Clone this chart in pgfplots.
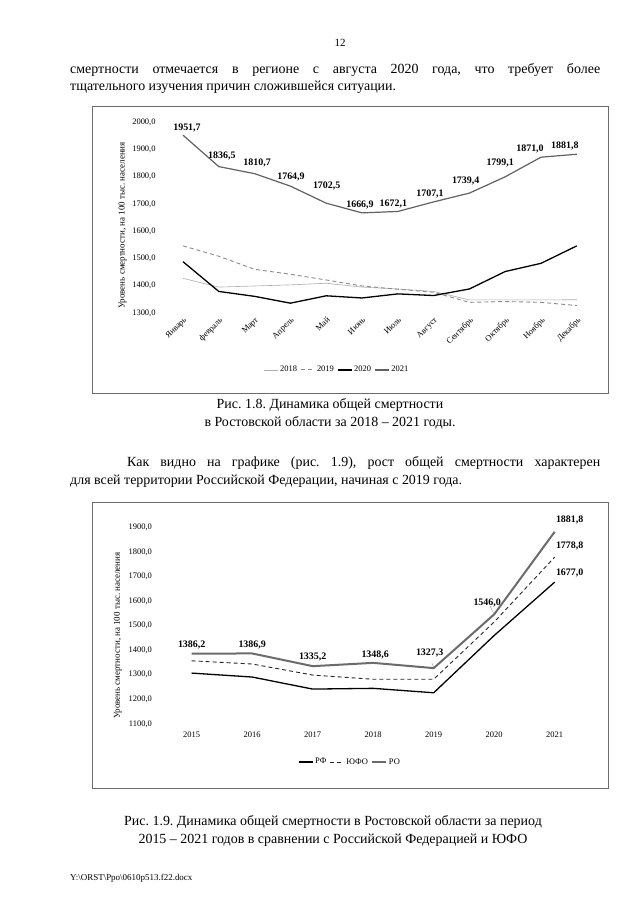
\documentclass[border=0pt]{standalone}
\usepackage{fontspec}
\setmainfont{Liberation Serif}
\usepackage{pgfplots}
\pgfplotsset{compat=1.18}
\usepackage{pgfplotstable}
\frenchspacing

\definecolor{boxgray}{gray}{0.42}
\definecolor{line18}{gray}{0.68}
\definecolor{line19}{gray}{0.55}
\definecolor{line21}{gray}{0.38}
\definecolor{lineRO}{gray}{0.42}

\newcommand\bodyfont{\fontsize{14}{17}\selectfont}
\newcommand\tickfont{\fontsize{8.5}{10}\selectfont}
\newcommand\lblfont{\fontsize{10}{11}\selectfont\bfseries}

% monthly values, Rostov region
\pgfplotstableread{
x  y18   y19   y20   y21     lbl     dx   dy
0  1427  1546  1488  1951.7  1951,7  4    7
1  1395  1508  1379  1836.5  1836,5  3    10.6
2  1399  1460  1361  1810.7  1810,7  2.5  10.6
3  1403  1442  1336  1764.9  1764,9  0.6  9
4  1409  1421  1363  1702.5  1702,5  0.5  17.5
5  1395  1399  1355  1666.9  1666,9  -2   8
6  1388  1387  1370  1672.1  1672,1  -4.5 7.5
7  1379  1376  1364  1707.1  1707,1  -3.6 7.6
8  1348  1339  1388  1739.4  1739,4  -3.7 12
9  1348  1342  1452  1799.1  1799,1  -5   13.5
10 1348  1339  1482  1871.0  1871,0  -11  8.5
11 1348.6 1327.3 1546 1881.8 1881,8  -12  8.6
}\monthly

% yearly values: RF, YuFO, RO
\pgfplotstableread{
x  rf     yufo   ro      lbl     dx   dy
0  1307   1357   1386.2  1386,2  0    8.6
1  1291   1344   1386.9  1386,9  0    8.4
2  1242   1299   1335.2  1335,2  0    9.4
3  1245   1282   1348.6  1348,6  2    7.8
4  1227   1282   1327.3  1327,3  -4   14.8
5  1460   1515   1546.0  1546,0  -7   11.4
6  1677.0 1778.8 1881.8  1881,8  15   11.6
}\yearly

\pgfplotsset{
  pagechart/.style={
    scale only axis,
    anchor=south west,
    axis line style={draw=none},
    tick style={draw=none},
    clip=false,
    scaled y ticks=false,
    y tick label style={font=\tickfont,xshift=-6bp,
      /pgf/number format/.cd,fixed,fixed zerofill,precision=1,use comma,1000 sep={},assume math mode=true,/tikz/.cd},
    x tick label style={font=\tickfont},
    ylabel style={font=\fontsize{9}{10}\selectfont},
    legend style={draw=none,fill=none,font=\tickfont,legend columns=-1,
      nodes={inner xsep=1.5bp},
      /tikz/every even column/.append style={column sep=2bp}},
    legend image code/.code={\draw[##1] (0bp,0bp) -- (14bp,0bp);},
  },
  labelled/.style={
    nodes near coords,
    point meta=explicit symbolic,
    visualization depends on={\thisrow{dx}\as\dx},
    visualization depends on={\thisrow{dy}\as\dy},
    every node near coord/.append style={anchor=center,inner sep=0pt,
      font=\lblfont,text=black,xshift=\dx*1bp,yshift=\dy*1bp},
  },
}

\begin{document}
\begin{tikzpicture}[x=1bp,y=1bp]
\fill[white] (0,0) rectangle (640,905);
\coordinate (A1) at (165.1,592);
\coordinate (A2) at (161.45,181);

% page text
\node[inner sep=0] at (340,862) {\fontsize{11}{12}\selectfont 12};
\node[anchor=base west,inner sep=0] at (70,831.5) {\bodyfont\makebox[530bp][s]{смертности отмечается в регионе с августа 2020 года, что требует более}};
\node[anchor=base west,inner sep=0] at (70,814.5) {\bodyfont тщательного изучения причин сложившейся ситуации.};

\draw[boxgray,line width=0.8bp] (92,799) rectangle (608,512);

\begin{axis}[pagechart,
  at={(A1)},
  width=429.6bp, height=191bp,
  xmin=-0.5, xmax=11.5, ymin=1300, ymax=2000,
  xtick={0,...,11},
  xticklabels={Январь,февраль,Март,Апрель,Май,Июнь,Июль,Август,Сентябрь,Октябрь,Ноябрь,Декабрь},
  x tick label style={rotate=45,anchor=north east,xshift=1bp,yshift=1bp},
  ytick={1300,1400,...,2000},
  ylabel={Уровень смертности, на 100 тыс. населения},
  ylabel style={yshift=-1bp,xshift=-8bp},
  legend style={at={(0.40,-0.298)},anchor=center},
]
\addplot[line18,line width=0.6bp] table[x=x,y=y18] {\monthly};
\addlegendentry{2018}
\addplot[line19,line width=0.9bp,dash pattern=on 4bp off 3bp] table[x=x,y=y19] {\monthly};
\addlegendentry{2019}
\addplot[black,line width=1.3bp] table[x=x,y=y20] {\monthly};
\addlegendentry{2020}
\addplot[line21,line width=1.2bp,labelled] table[x=x,y=y21,meta=lbl] {\monthly};
\addlegendentry{2021}
\end{axis}

\node[inner sep=0] at (330,500) {\bodyfont Рис. 1.8. Динамика общей смертности};
\node[inner sep=0] at (330,482) {\bodyfont в Ростовской области за 2018 – 2021 годы.};

\node[anchor=base west,inner sep=0] at (127,438) {\bodyfont\makebox[473bp][s]{Как видно на графике (рис. 1.9), рост общей смертности характерен}};
\node[anchor=base west,inner sep=0] at (70,420) {\bodyfont для всей территории Российской Федерации, начиная с 2019 года.};

\draw[boxgray,line width=0.8bp] (92,403) rectangle (608,117);

\begin{axis}[pagechart,
  at={(A2)},
  width=423.5bp, height=196.7bp,
  xmin=-0.5, xmax=6.5, ymin=1100, ymax=1900,
  xtick={0,...,6},
  xticklabels={2015,2016,2017,2018,2019,2020,2021},
  x tick label style={yshift=-4bp},
  ytick={1100,1200,...,1900},
  ylabel={Уровень смертности, на 100 тыс. населения},
  ylabel style={yshift=0bp,xshift=-10bp},
  legend style={at={(0.445,-0.193)},anchor=center},
]
\addplot[black,line width=1.3bp,
  nodes near coords={\ifnum\coordindex=6 1677,0\fi},
  every node near coord/.append style={anchor=center,font=\lblfont,xshift=15bp,yshift=9bp}]
  table[x=x,y=rf] {\yearly};
\addlegendentry{РФ}
\addplot[black!85,line width=0.9bp,dash pattern=on 4bp off 3bp,
  nodes near coords={\ifnum\coordindex=6 1778,8\fi},
  every node near coord/.append style={anchor=center,font=\lblfont,text=black,xshift=15bp,yshift=11bp}]
  table[x=x,y=yufo] {\yearly};
\addlegendentry{ЮФО}
\addplot[lineRO,line width=2bp,labelled] table[x=x,y=ro,meta=lbl] {\yearly};
\addlegendentry{РО}
\draw[gray,line width=0.3bp] (axis cs:3.97,1348) -- (axis cs:4,1331);
\draw[gray,line width=0.3bp] (axis cs:4.93,1580) -- (axis cs:4.99,1550);
\end{axis}

\node[inner sep=0] at (333,83) {\bodyfont Рис. 1.9. Динамика общей смертности в Ростовской области за период};
\node[inner sep=0] at (333,65) {\bodyfont 2015 – 2021 годов в сравнении с Российской Федерацией и ЮФО};

\node[anchor=base west,inner sep=0] at (70,24) {\fontsize{9}{10}\selectfont Y:\textbackslash ORST\textbackslash Ppo\textbackslash 0610p513.f22.docx};
\end{tikzpicture}
\end{document}
